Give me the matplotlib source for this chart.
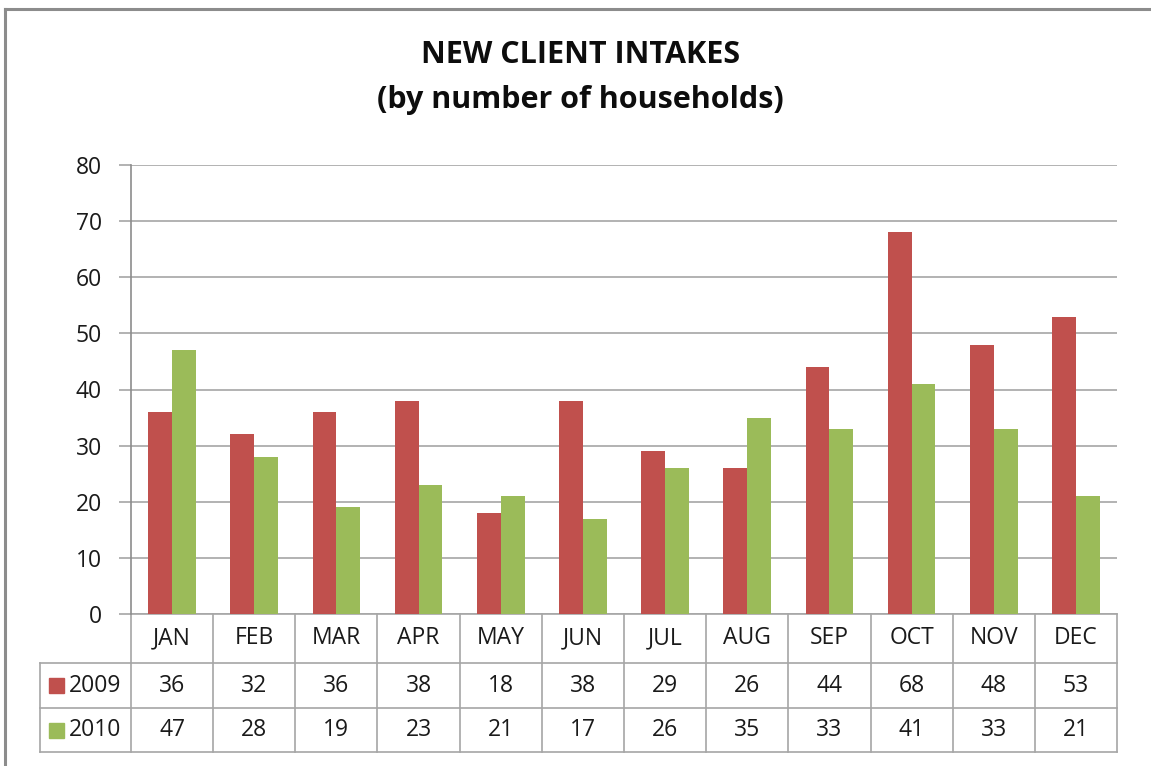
import matplotlib.pyplot as plt
from matplotlib.patches import Rectangle
from matplotlib.lines import Line2D
import matplotlib.transforms as mtransforms
import numpy as np

plt.rcParams['font.family'] = ['Open Sans', 'DejaVu Sans']

# data
months = ['JAN', 'FEB', 'MAR', 'APR', 'MAY', 'JUN', 'JUL', 'AUG', 'SEP', 'OCT', 'NOV', 'DEC']
intakes_2009 = [36, 32, 36, 38, 18, 38, 29, 26, 44, 68, 48, 53]
intakes_2010 = [47, 28, 19, 23, 21, 17, 26, 35, 33, 41, 33, 21]
series_names = ['2009', '2010']
colors = ['#C0504D', '#9BBB59']

W, H = 1151, 766
fig = plt.figure(figsize=(W / 100, H / 100), dpi=100)

# outer chart frame (only top/left visible)
fig.add_artist(Line2D([5 / W, 5 / W], [0, 1 - 9 / H], color='#8c8c8c', lw=2.2))
fig.add_artist(Line2D([5 / W, 1], [1 - 9 / H, 1 - 9 / H], color='#8c8c8c', lw=2.2))

left, right, top, bottom = 131, 1117, 165, 614
ax = fig.add_axes([left / W, 1 - bottom / H, (right - left) / W, (bottom - top) / H])

x = np.arange(len(months))
bw = 0.29
ax.bar(x - bw / 2, intakes_2009, bw, color=colors[0], zorder=3)
ax.bar(x + bw / 2, intakes_2010, bw, color=colors[1], zorder=3)

ax.set_xlim(-0.5, len(months) - 0.5)
ax.set_ylim(0, 80)
ax.set_yticks(range(0, 81, 10))
ax.yaxis.grid(True, color='#a6a6a6', lw=1.2, zorder=0)
ax.set_xticks([])
for s in ['top', 'right', 'bottom']:
    ax.spines[s].set_visible(False)
ax.spines['left'].set_color('#8c8c8c')
ax.spines['left'].set_linewidth(1.2)
ax.tick_params(axis='y', length=9, width=1.2, color='#a6a6a6', labelsize=16.5,
               labelcolor='#1a1a1a', pad=12)

# data table below the axes
trans = mtransforms.blended_transform_factory(ax.transData, ax.transAxes)
ph = bottom - top
r0 = 0.0
r1 = -(663 - bottom) / ph
r2 = -(708 - bottom) / ph
r3 = -(752 - bottom) / ph
lab_left = -0.5 - (left - 40) / ((right - left) / len(months))
line_kw = dict(color='#a6a6a6', lw=1.2, clip_on=False, transform=trans)

ax.plot([-0.5, len(months) - 0.5], [r0, r0], **line_kw)
ax.plot([-0.5, len(months) - 0.5], [r1, r1], **line_kw)
ax.plot([lab_left, -0.5], [r1, r1], **line_kw)
ax.plot([lab_left, len(months) - 0.5], [r2, r2], **line_kw)
ax.plot([lab_left, len(months) - 0.5], [r3, r3], **line_kw)
ax.plot([lab_left, lab_left], [r1, r3], **line_kw)
for i in range(len(months) + 1):
    ax.plot([i - 0.5, i - 0.5], [r0, r3], **line_kw)

txt_kw = dict(transform=trans, ha='center', va='center', fontsize=16.5, color='#1a1a1a', clip_on=False)
for i, m in enumerate(months):
    ax.text(i, (r0 + r1) / 2, m, **txt_kw)
    ax.text(i, (r1 + r2) / 2, str(intakes_2009[i]), **txt_kw)
    ax.text(i, (r2 + r3) / 2, str(intakes_2010[i]), **txt_kw)

# legend keys in the row header
for name, col, (ya, yb) in zip(series_names, colors, [(r1, r2), (r2, r3)]):
    yc = bottom - (ya + yb) / 2 * ph
    fig.add_artist(Rectangle((49 / W, 1 - (yc + 7.5) / H), 15 / W, 15 / H,
                             color=col, transform=fig.transFigure))
    fig.text(69 / W, 1 - yc / H, name, ha='left', va='center',
             fontsize=16.5, color='#1a1a1a')

fig.text(0.5 * (W + 10) / W, 1 - 55 / H, 'NEW CLIENT INTAKES', ha='center', va='center',
         fontsize=22, fontweight='bold', color='#0d0d0d')
fig.text(0.5 * (W + 10) / W, 1 - 100 / H, '(by number of households)', ha='center', va='center',
         fontsize=22, fontweight='bold', color='#0d0d0d')

fig.savefig('out.png', dpi=100)
